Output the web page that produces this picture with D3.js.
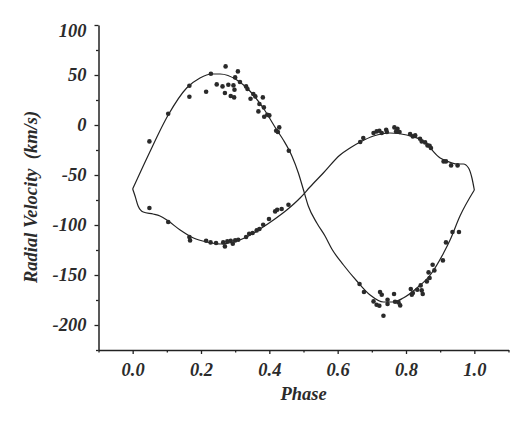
<!DOCTYPE html>
<html>
<head>
<meta charset="utf-8">
<script src="https://cdn.jsdelivr.net/npm/d3@7"></script>
<style>
  body { margin: 0; background: #fff; }
  svg text { font-family: "Liberation Serif", "Times New Roman", serif; font-weight: bold; font-style: italic; fill: #2b2b2b; }
</style>
</head>
<body>
<div id="chart"></div>
<script>
// observed radial velocities [phase, km/s]
const primaryObs = [
  [0.049, -16.4], [0.104, 11.3], [0.166, 39.3], [0.166, 28.3], [0.215, 33.3], [0.229, 51.3],
  [0.246, 40.6], [0.272, 58.6], [0.308, 53.6], [0.300, 47.6], [0.263, 38.6], [0.280, 40.3],
  [0.295, 39.6], [0.298, 35.3], [0.270, 32.0], [0.287, 29.0], [0.297, 27.6], [0.314, 43.0],
  [0.332, 38.6], [0.336, 36.0], [0.353, 31.0], [0.359, 28.6], [0.345, 26.3], [0.381, 27.6],
  [0.371, 21.0], [0.384, 17.6], [0.368, 13.6], [0.394, 10.3], [0.400, 9.6], [0.385, 8.3],
  [0.420, -5.7], [0.429, -2.4], [0.425, -7.0], [0.457, -25.7],
  [0.664, -159], [0.677, -167], [0.705, -176.4], [0.714, -179.7], [0.722, -180.7], [0.724, -167],
  [0.729, -169.7], [0.734, -190.7], [0.746, -174.7], [0.746, -179], [0.765, -169], [0.768, -176.7],
  [0.778, -177.4], [0.783, -180.4], [0.814, -164], [0.817, -169.7], [0.820, -168], [0.833, -164.7],
  [0.843, -160.4], [0.846, -165.4], [0.849, -169], [0.861, -156.4], [0.866, -147.4], [0.869, -153],
  [0.878, -139.7], [0.883, -145.4], [0.908, -135.4], [0.917, -117.4], [0.936, -107], [0.955, -107]
];

const secondaryObs = [
  [0.049, -83], [0.104, -97], [0.166, -112], [0.168, -115.4], [0.215, -115.7], [0.228, -117.4],
  [0.244, -118], [0.265, -117.4], [0.270, -121.4], [0.277, -116.4], [0.287, -115.7], [0.293, -118.7],
  [0.300, -115.4], [0.309, -114.7], [0.332, -112], [0.341, -108.7], [0.351, -108], [0.363, -105.4],
  [0.371, -104], [0.382, -99.7], [0.399, -94], [0.417, -86.4], [0.423, -84.7], [0.436, -84],
  [0.456, -79.7],
  [0.666, -17], [0.675, -13], [0.705, -8], [0.714, -6.4], [0.722, -5.7], [0.729, -8],
  [0.742, -4.7], [0.744, -7], [0.766, -2.4], [0.775, -3.7], [0.771, -6.4], [0.781, -7],
  [0.812, -9], [0.820, -11.4], [0.827, -10.4], [0.841, -13.7], [0.846, -16.4], [0.856, -17.4],
  [0.863, -20.4], [0.869, -20.7], [0.873, -23], [0.910, -36.4], [0.917, -36.4], [0.932, -40.4],
  [0.951, -40.4]
];

// fitted curves [phase, km/s]
const primaryFit = [
  [0.0, -64], [0.046, -30], [0.104, 10], [0.158, 37], [0.197, 47], [0.231, 51], [0.256, 51],
  [0.305, 45], [0.343, 34], [0.382, 17], [0.422, -5], [0.441, -15], [0.466, -31], [0.485, -48],
  [0.5, -65], [0.514, -81], [0.539, -98], [0.563, -111], [0.583, -124], [0.617, -140],
  [0.656, -156], [0.695, -170], [0.734, -177], [0.763, -177], [0.792, -173], [0.832, -163],
  [0.871, -150], [0.91, -128], [0.929, -115], [0.958, -91], [1.0, -65]
];

const secondaryFit = [
  [0.0, -64], [0.007, -71], [0.016, -81], [0.031, -87], [0.06, -89], [0.08, -91], [0.104, -96],
  [0.139, -105], [0.178, -113], [0.217, -117], [0.256, -119], [0.295, -117], [0.334, -112],
  [0.373, -104], [0.412, -95], [0.451, -85], [0.49, -73], [0.519, -62], [0.558, -48],
  [0.607, -30], [0.636, -23], [0.666, -17], [0.705, -11], [0.753, -8], [0.802, -10],
  [0.851, -16], [0.9, -33], [0.919, -36], [0.949, -39], [0.968, -39], [0.983, -43],
  [0.993, -53], [1.0, -65]
];

const xMajor = [0, 0.2, 0.4, 0.6, 0.8, 1.0];
const xMinor = [-0.1, 0.1, 0.3, 0.5, 0.7, 0.9, 1.1];
const yMajor = [100, 50, 0, -50, -100, -150, -200];
const yMinor = [75, 25, -25, -75, -125, -175, -225];

const width = 526, height = 445;

const svg = d3.select('#chart').append('svg')
  .attr('width', width)
  .attr('height', height);

const x = d3.scaleLinear().domain([-0.1, 1.1]).range([98.5, 508.5]);
const y = d3.scaleLinear().domain([-225, 100]).range([350, 25]);

// axes
const xAxis = svg.append('g')
  .attr('transform', `translate(0,${y(-225)})`)
  .call(d3.axisBottom(x).tickValues(xMajor).tickSize(4).tickSizeOuter(0).tickPadding(9)
    .tickFormat(d3.format('.1f')));
svg.append('g')
  .attr('transform', `translate(0,${y(-225)})`)
  .call(d3.axisBottom(x).tickValues(xMinor).tickSize(2.5).tickSizeOuter(0).tickFormat(''))
  .select('.domain').remove();

const yAxis = svg.append('g')
  .attr('transform', `translate(${x(-0.1)},0)`)
  .call(d3.axisLeft(y).tickValues(yMajor).tickSize(4).tickSizeOuter(0).tickPadding(8)
    .tickFormat(d => String(d)));
svg.append('g')
  .attr('transform', `translate(${x(-0.1)},0)`)
  .call(d3.axisLeft(y).tickValues(yMinor).tickSize(2.5).tickSizeOuter(0).tickFormat(''))
  .select('.domain').remove();

svg.selectAll('.domain').attr('stroke', '#222').attr('stroke-width', 1.5);
svg.selectAll('.tick line').attr('stroke', '#222').attr('stroke-width', 1.3);
xAxis.selectAll('text').attr('font-size', 18.5).attr('font-family', null);
yAxis.selectAll('text').attr('font-size', 18.5).attr('font-family', null);
// top label sits a bit lower in the original
yAxis.selectAll('.tick').filter(d => d === 100).select('text').attr('dy', '0.62em');

svg.append('text')
  .attr('x', x(0.5))
  .attr('y', 400)
  .attr('text-anchor', 'middle')
  .attr('font-size', 18.5)
  .text('Phase');

svg.append('text')
  .attr('transform', `translate(37,197) rotate(-90)`)
  .attr('text-anchor', 'middle')
  .attr('font-size', 18.5)
  .attr('xml:space', 'preserve')
  .style('white-space', 'pre')
  .text('Radial Velocity  (km/s)');

// fitted curves
const line = d3.line()
  .x(d => x(d[0]))
  .y(d => y(d[1]))
  .curve(d3.curveMonotoneX);

svg.selectAll('path.fit')
  .data([primaryFit, secondaryFit])
  .join('path')
  .attr('class', 'fit')
  .attr('d', line)
  .attr('fill', 'none')
  .attr('stroke', '#222')
  .attr('stroke-width', 1.2);

// observations
svg.append('g')
  .selectAll('circle')
  .data(primaryObs.concat(secondaryObs))
  .join('circle')
  .attr('cx', d => x(d[0]))
  .attr('cy', d => y(d[1]))
  .attr('r', 2.3)
  .attr('fill', '#2a2a2a');
</script>
</body>
</html>
